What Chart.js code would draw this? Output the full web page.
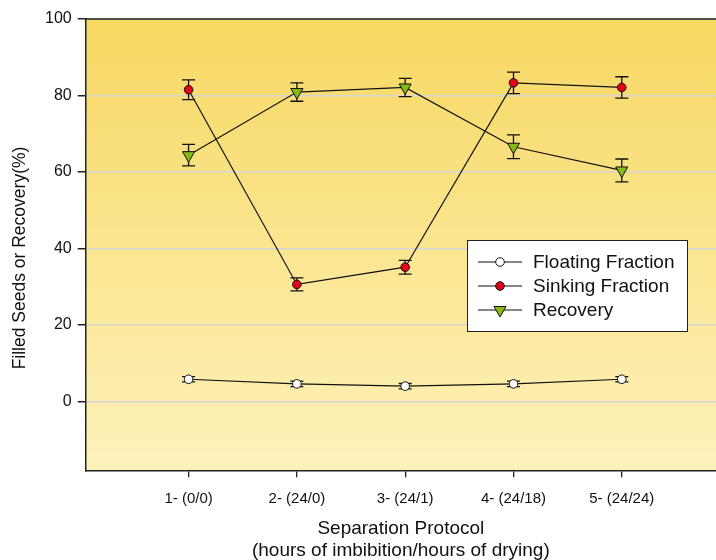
<!DOCTYPE html>
<html>
<head>
<meta charset="utf-8">
<script src="https://cdn.jsdelivr.net/npm/chart.js@4"></script>
<style>
  body { margin: 0; background: #fff; }
  #wrap { width: 716px; height: 560px; }
</style>
</head>
<body>
<div id="wrap"><canvas id="seedChart" width="716" height="560"></canvas></div>
<script>
// Separation protocols (hours of imbibition / hours of drying)
const protocols = ['1- (0/0)', '2- (24/0)', '3- (24/1)', '4- (24/18)', '5- (24/24)'];
const yTicks = [0, 20, 40, 60, 80, 100];

// Mean % filled seeds and their error bars
const floating = [5.8, 4.6, 4.0, 4.6, 5.8];
const floatingErr = [0.7, 0.7, 0.7, 0.7, 0.7];
const sinking = [81.5, 30.6, 35.1, 83.3, 82.1];
const sinkingErr = [2.6, 1.7, 1.8, 2.8, 2.8];
const recovery = [64.4, 80.9, 82.1, 66.6, 60.4];
const recoveryErr = [2.8, 2.4, 2.4, 3.1, 3.0];

const FONT = '"Liberation Sans", Arial, sans-serif';
const toPoints = arr => arr.map((v, i) => ({ x: i + 1, y: v }));

// yellow gradient behind the plot, top frame line and the y-axis title
const plotBackground = {
  id: 'plotBackground',
  beforeDraw(chart) {
    const { ctx, chartArea: a } = chart;
    const g = ctx.createLinearGradient(0, a.top, 0, a.bottom);
    g.addColorStop(0, '#f7d862');
    g.addColorStop(1, '#fef2bc');
    ctx.save();
    ctx.fillStyle = g;
    ctx.fillRect(a.left, a.top, a.right - a.left, a.bottom - a.top);
    ctx.restore();
  },
  afterDraw(chart) {
    const { ctx, chartArea: a } = chart;
    ctx.save();
    ctx.strokeStyle = '#222';
    ctx.lineWidth = 1.5;
    ctx.beginPath();
    ctx.moveTo(a.left, a.top);
    ctx.lineTo(a.right, a.top);
    ctx.stroke();
    ctx.translate(20, 258);
    ctx.rotate(-Math.PI / 2);
    ctx.font = '17.5px ' + FONT;
    ctx.fillStyle = '#111';
    ctx.textAlign = 'center';
    ctx.textBaseline = 'middle';
    ctx.fillText('Filled Seeds or Recovery(%)', 0, 0);
    ctx.restore();
  }
};

// vertical error bars with caps, drawn under the markers
const errorBars = {
  id: 'errorBars',
  beforeDatasetsDraw(chart) {
    const { ctx, scales: { x, y } } = chart;
    ctx.save();
    ctx.strokeStyle = '#111';
    ctx.lineWidth = 1.3;
    chart.data.datasets.forEach(ds => {
      ds.data.forEach((p, i) => {
        const px = x.getPixelForValue(p.x);
        const top = y.getPixelForValue(p.y + ds.errors[i]);
        const bot = y.getPixelForValue(p.y - ds.errors[i]);
        ctx.beginPath();
        ctx.moveTo(px, top); ctx.lineTo(px, bot);
        ctx.moveTo(px - 6.5, top); ctx.lineTo(px + 6.5, top);
        ctx.moveTo(px - 6.5, bot); ctx.lineTo(px + 6.5, bot);
        ctx.stroke();
      });
    });
    ctx.restore();
  }
};

// boxed legend sitting inside the plot
const boxLegend = {
  id: 'boxLegend',
  afterDraw(chart) {
    const { ctx } = chart;
    const bx = 467, by = 240, bw = 220, bh = 91;
    ctx.save();
    ctx.fillStyle = '#fff';
    ctx.fillRect(bx, by, bw, bh);
    ctx.strokeStyle = '#222';
    ctx.lineWidth = 1;
    ctx.strokeRect(bx + 0.5, by + 0.5, bw, bh);
    ctx.font = '19px ' + FONT;
    ctx.textBaseline = 'middle';
    chart.data.datasets.forEach((ds, i) => {
      const ly = by + 22 + i * 24;
      ctx.strokeStyle = '#111';
      ctx.lineWidth = 1.2;
      ctx.beginPath();
      ctx.moveTo(bx + 11, ly); ctx.lineTo(bx + 55, ly);
      ctx.stroke();
      ctx.fillStyle = ds.pointBackgroundColor;
      ctx.strokeStyle = '#111';
      ctx.lineWidth = 1;
      Chart.helpers.drawPoint(ctx, {
        pointStyle: ds.pointStyle,
        radius: ds.pointRadius,
        rotation: ds.pointRotation || 0,
        borderWidth: 1
      }, bx + 33, ly);
      ctx.fillStyle = '#111';
      ctx.fillText(ds.label, bx + 66, ly + 1);
    });
    ctx.restore();
  }
};

new Chart(document.getElementById('seedChart'), {
  type: 'line',
  data: {
    datasets: [{
      label: 'Floating Fraction',
      data: toPoints(floating),
      errors: floatingErr,
      borderColor: '#111',
      borderWidth: 1.2,
      pointStyle: 'circle',
      pointRadius: 4.3,
      pointBackgroundColor: '#ffffff',
      pointBorderColor: '#111',
      pointBorderWidth: 1
    }, {
      label: 'Sinking Fraction',
      data: toPoints(sinking),
      errors: sinkingErr,
      borderColor: '#111',
      borderWidth: 1.2,
      pointStyle: 'circle',
      pointRadius: 4.3,
      pointBackgroundColor: '#e3001b',
      pointBorderColor: '#111',
      pointBorderWidth: 1
    }, {
      label: 'Recovery',
      data: toPoints(recovery),
      errors: recoveryErr,
      borderColor: '#111',
      borderWidth: 1.2,
      pointStyle: 'triangle',
      pointRotation: 180,
      pointRadius: 7,
      pointBackgroundColor: '#86b816',
      pointBorderColor: '#111',
      pointBorderWidth: 1
    }]
  },
  options: {
    responsive: false,
    animation: false,
    layout: { autoPadding: false, padding: { top: 19, right: 0, left: 39, bottom: 0 } },
    plugins: {
      legend: { display: false },
      tooltip: { enabled: false }
    },
    scales: {
      x: {
        type: 'linear',
        min: 0.05,
        max: 5.87,
        afterBuildTicks: s => { s.ticks = protocols.map((_, i) => ({ value: i + 1 })); },
        afterFit: s => { s.paddingLeft = 0; s.paddingRight = 0; },
        ticks: {
          callback: v => protocols[v - 1],
          color: '#111',
          font: { family: FONT, size: 15 },
          padding: 13,
          maxRotation: 0
        },
        grid: { drawOnChartArea: false, tickLength: 7, tickColor: '#222', lineWidth: 1.3 },
        border: { color: '#222', width: 1.5 },
        title: {
          display: true,
          text: ['Separation Protocol', '(hours of imbibition/hours of drying)'],
          color: '#111',
          font: { family: FONT, size: 19, lineHeight: 1.15 },
          padding: { top: -3, bottom: -2 }
        }
      },
      y: {
        min: -18,
        max: 100,
        afterBuildTicks: s => { s.ticks = yTicks.map(v => ({ value: v })); },
        ticks: {
          color: '#111',
          font: { family: FONT, size: 16 },
          padding: 6
        },
        grid: { color: '#d6d6d6', lineWidth: 1.5, tickLength: 8, tickColor: '#222' },
        border: { color: '#222', width: 1.5 }
      }
    }
  },
  plugins: [plotBackground, errorBars, boxLegend]
});
</script>
</body>
</html>
